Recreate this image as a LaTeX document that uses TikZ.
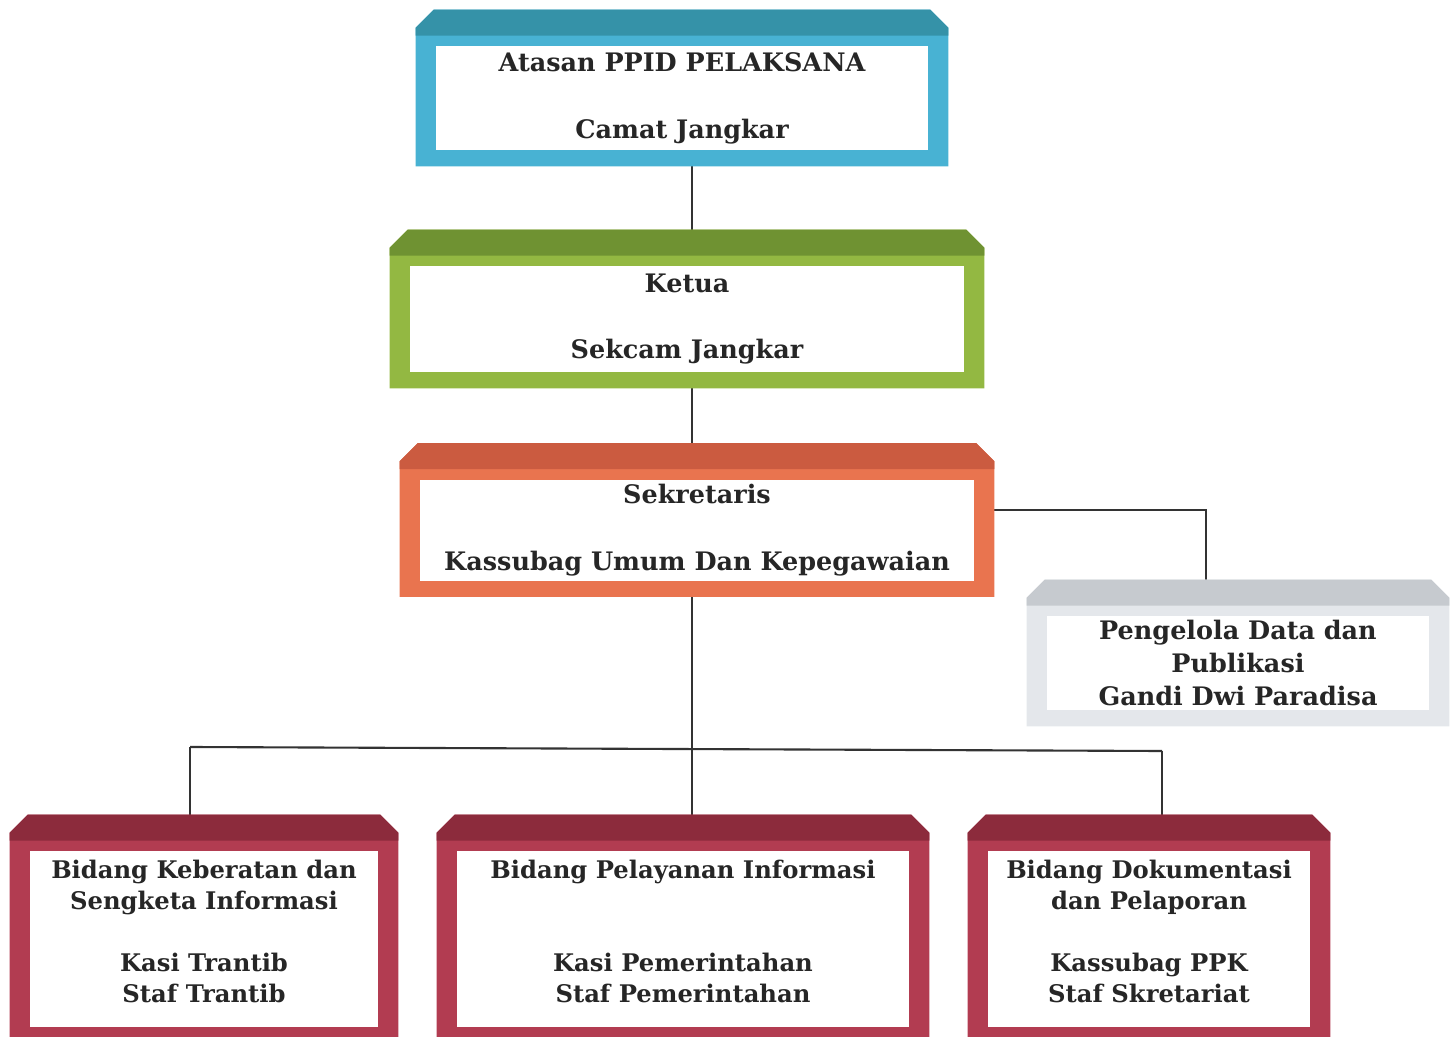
\documentclass[tikz,border=0pt]{standalone}
\usepackage{fontspec}
\setmainfont{DejaVu Serif}
\usetikzlibrary{calc,backgrounds}

\definecolor{blueside}{HTML}{48B2D3}
\definecolor{bluetop}{HTML}{3592A8}
\definecolor{greenside}{HTML}{93B842}
\definecolor{greentop}{HTML}{6F9232}
\definecolor{orangeside}{HTML}{E9744F}
\definecolor{orangetop}{HTML}{CB5B40}
\definecolor{greyside}{HTML}{E4E7EB}
\definecolor{greytop}{HTML}{C6CACF}
\definecolor{maroonside}{HTML}{B23C51}
\definecolor{maroontop}{HTML}{8C2B3C}
\definecolor{txtgray}{HTML}{262626}
\definecolor{linegray}{HTML}{333333}

\tikzset{
  orgbox/.style={fill=white, align=center, inner sep=0pt, text=txtgray,
    font=\bfseries\fontsize{14.5}{19}\selectfont},
  unitbox/.style={orgbox, font=\bfseries\fontsize{13.8}{17.6}\selectfont},
  boxsize/.style 2 args={minimum width=#1*0.02cm, minimum height=#2*0.02cm},
  link/.style={draw=linegray, line width=1.2pt}
}

% frame round the white part of a box: node, side colour, top colour
\newcommand{\orgframe}[3]{%
  \fill[#2] ([shift={(-20,16)}]#1.south west) -- ([shift={(-20,-18)}]#1.north west)
    -- ([shift={(-2,-36)}]#1.north west) -- ([shift={(2,-36)}]#1.north east)
    -- ([shift={(20,-18)}]#1.north east) -- ([shift={(20,16)}]#1.south east) -- cycle;
  \fill[#3] ([shift={(-20,-10)}]#1.north west) -- ([shift={(-20,-18)}]#1.north west)
    -- ([shift={(-2,-36)}]#1.north west) -- ([shift={(2,-36)}]#1.north east)
    -- ([shift={(20,-18)}]#1.north east) -- ([shift={(20,-10)}]#1.north east) -- cycle;
}
\newcommand{\lowstrut}{\rule[-9pt]{0pt}{0pt}}

\begin{document}
\begin{tikzpicture}[x=0.02cm,y=-0.02cm]
  \useasboundingbox (0,0) rectangle (1455,1037);

  \node[orgbox, boxsize={492}{104}] (atasan) at (682,98)
    {Atasan PPID PELAKSANA\\ \\Camat Jangkar};
  \node[orgbox, boxsize={554}{106}] (ketua) at (687,319)
    {Ketua\\ \\Sekcam Jangkar};
  \node[orgbox, boxsize={554}{101}] (sekretaris) at (697,530)
    {Sekretaris\\ \\Kassubag Umum Dan Kepegawaian};
  \node[orgbox, boxsize={382}{94}] (pengelola) at (1238,663)
    {Pengelola Data dan\\Publikasi\\Gandi Dwi Paradisa};

  \node[unitbox, boxsize={348}{176}] (keberatan) at (204,939)
    {Bidang Keberatan dan\\Sengketa Informasi\\ \\Kasi Trantib\\Staf Trantib\lowstrut};
  \node[unitbox, boxsize={452}{176}] (pelayanan) at (683,939)
    {Bidang Pelayanan Informasi\\ \\ \\Kasi Pemerintahan\\Staf Pemerintahan\lowstrut};
  \node[unitbox, boxsize={322}{176}] (dokumentasi) at (1149,939)
    {Bidang Dokumentasi\\dan Pelaporan\\ \\Kassubag PPK\\Staf Skretariat\lowstrut};

  \coordinate (spine) at (692,0);
  \coordinate (tap) at (1206,510);
  \coordinate (busL) at (190,747);
  \coordinate (busR) at (1162,751);

  \begin{scope}[on background layer]
    \draw[link] (atasan.south -| spine) -- (ketua.north -| spine);
    \draw[link] (ketua.south -| spine) -- (sekretaris.north -| spine);
    \draw[link] (sekretaris.east |- tap) -| (pengelola.north -| tap);
    \draw[link] (sekretaris.south -| spine) -- (pelayanan.north -| spine);
    \draw[link] (busL) -- (busR);
    \draw[link] (busL) -- (busL |- keberatan.north);
    \draw[link] (busR) -- (busR |- dokumentasi.north);

    \orgframe{atasan}{blueside}{bluetop}
    \orgframe{ketua}{greenside}{greentop}
    \orgframe{sekretaris}{orangeside}{orangetop}
    \orgframe{pengelola}{greyside}{greytop}
    \orgframe{keberatan}{maroonside}{maroontop}
    \orgframe{pelayanan}{maroonside}{maroontop}
    \orgframe{dokumentasi}{maroonside}{maroontop}
  \end{scope}
\end{tikzpicture}
\end{document}
